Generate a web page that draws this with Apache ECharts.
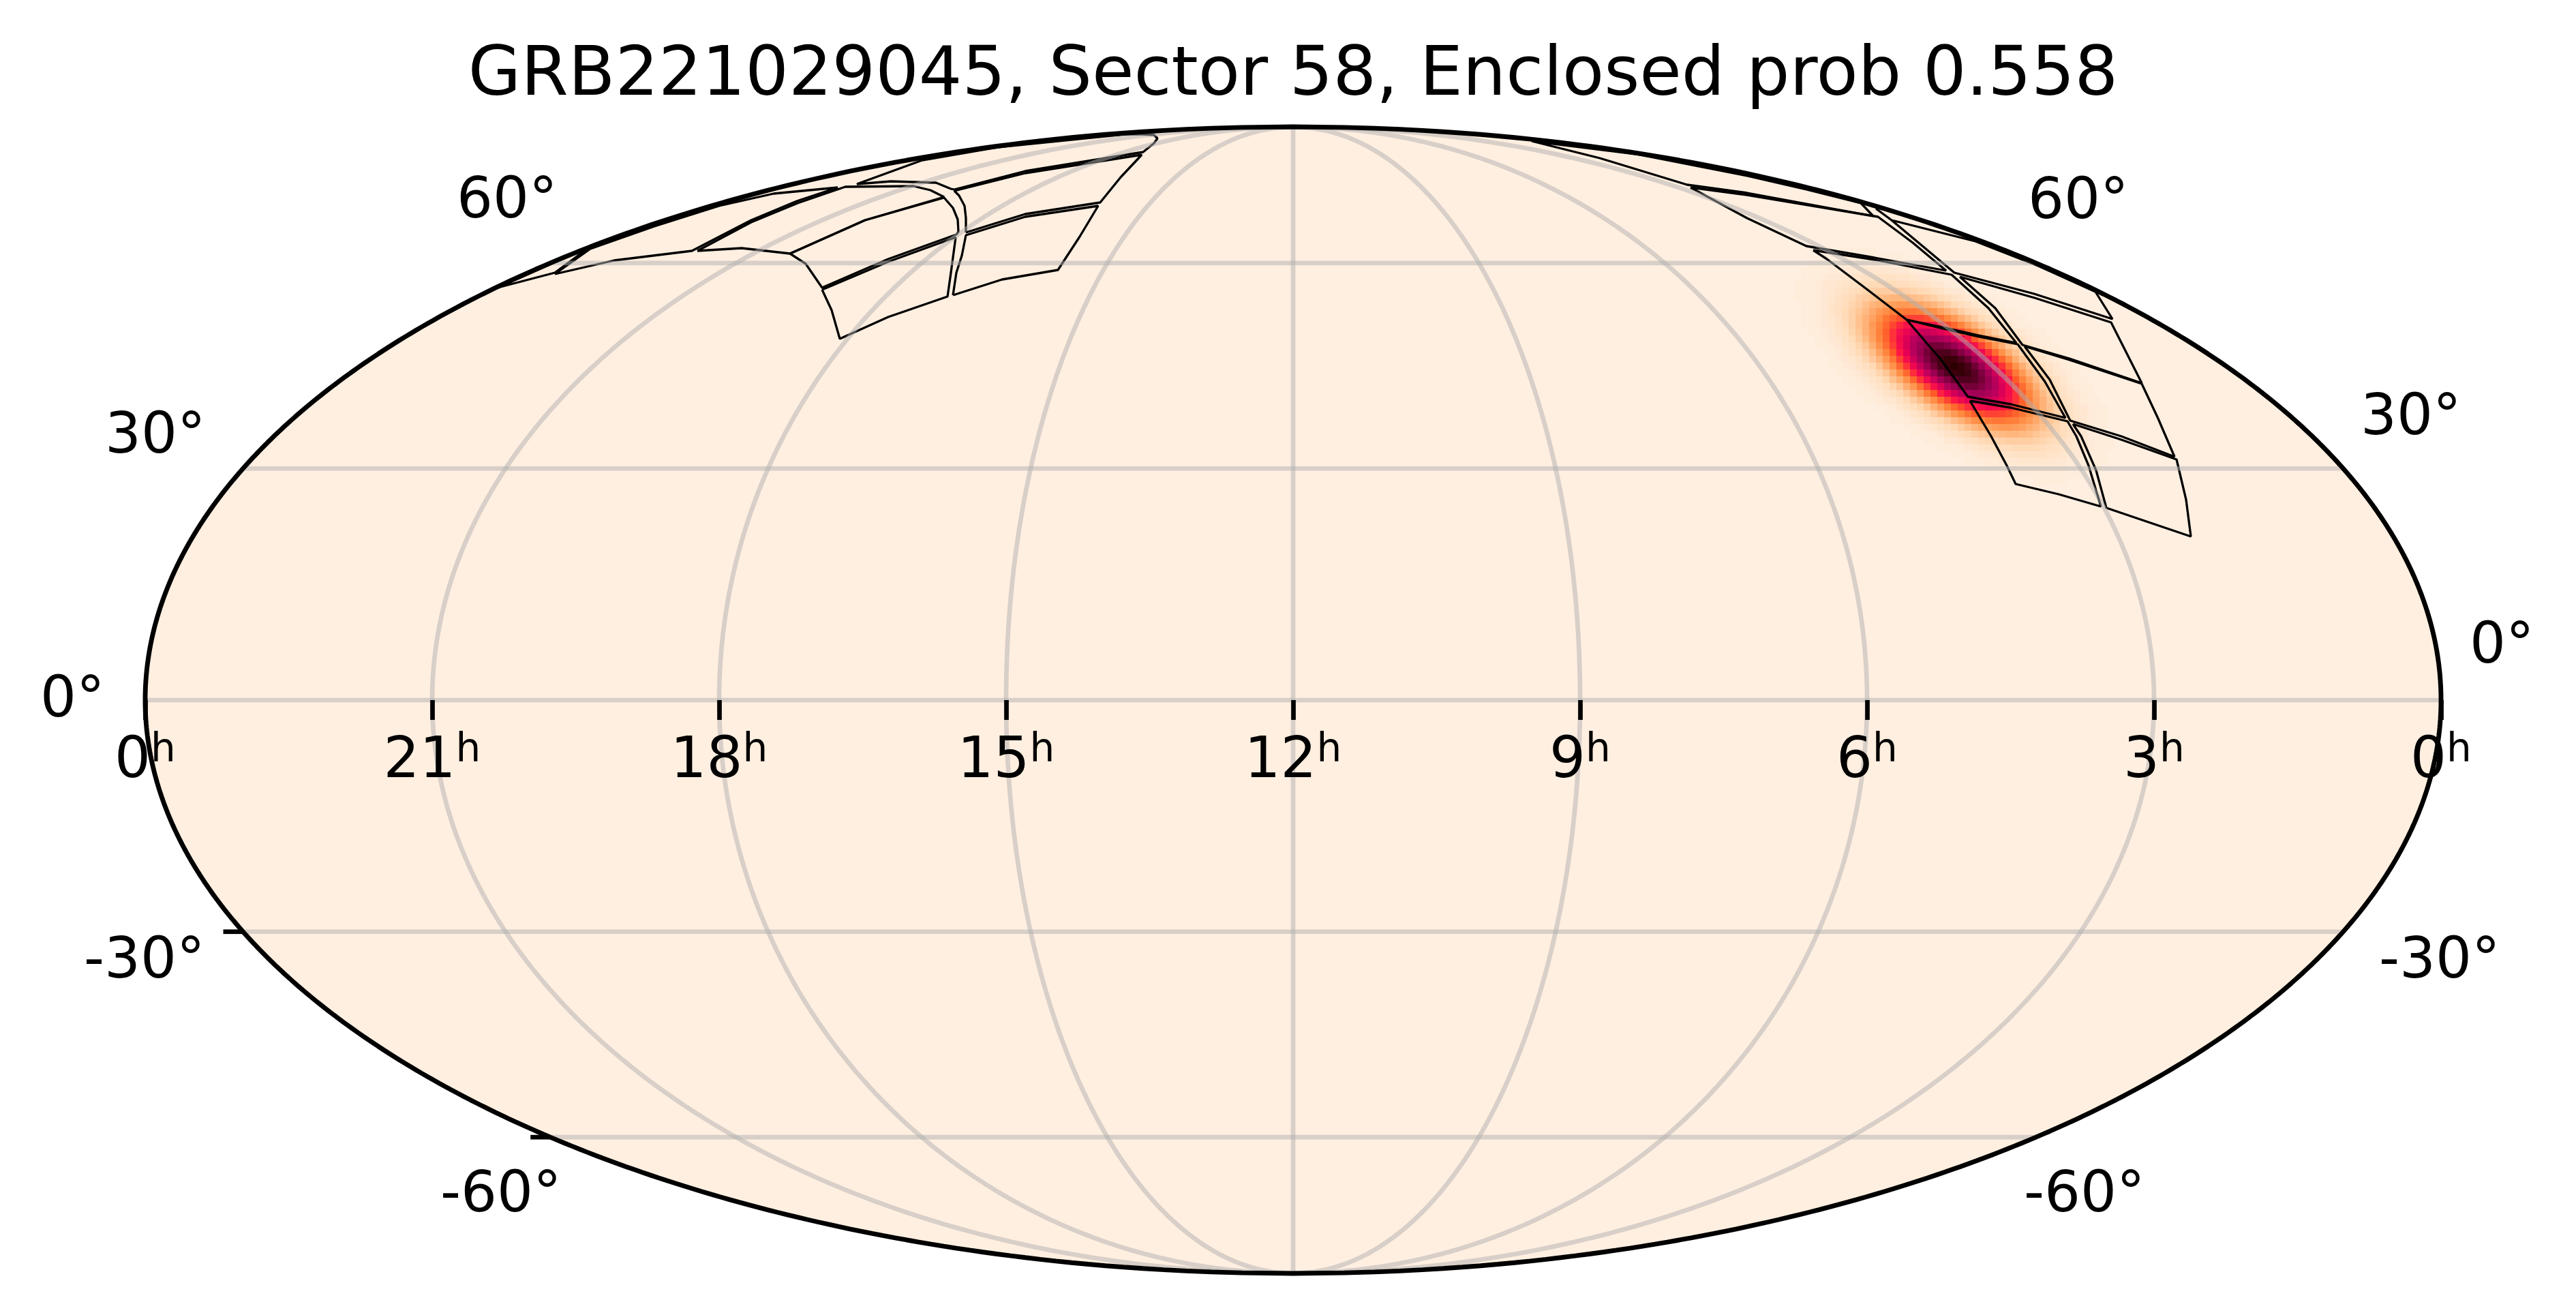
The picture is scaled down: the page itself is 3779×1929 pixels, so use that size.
<!DOCTYPE html>
<html>
<head>
<meta charset="utf-8">
<title>GRB221029045</title>
<style>
  html, body { margin: 0; background: #fff; }
  #chart { width: 3779px; height: 1929px; }
</style>
<script src="https://cdn.jsdelivr.net/npm/echarts@6/dist/echarts.min.js"></script>
</head>
<body>
<div id="chart"></div>
<script>
const titleText = 'GRB221029045, Sector 58, Enclosed prob 0.558';
const raTickLabels = ['0', '21', '18', '15', '12', '9', '6', '3', '0'];
const decTickLabels = ['0°', '30°', '60°', '-30°', '-60°', '0°', '30°', '60°', '-30°', '-60°'];
const meridianLons = [-135, -90, -45, 0, 45, 90, 135];
const parallelLats = [-60, -30, 0, 30, 60];
const tickedLats = [-30, -60];

// sensor footprints, in units of the projection plane
const camTopLeftTip = [[-1167,605],[-1083,627],[-1033,664],[-1097,636],[-1167,605]];
const camTopLeftA = [[-1083,625],[-996,645],[-882,659],[-795,704],[-728,732],[-668,752],[-762,743],[-842,725],[-937,695],[-1031,662],[-1083,625]];
const camTopLeftB = [[-874,659],[-809,663],[-738,655],[-628,704],[-512,738],[-532,748],[-557,754],[-657,753],[-727,729],[-795,701],[-874,659]];
const camLeftA = [[-738,655],[-715,640],[-691,605],[-594,647],[-494,683],[-491,687],[-492,705],[-499,722],[-512,737],[-628,704],[-738,655]];
const camLeftB = [[-691,602],[-677,572],[-665,530],[-594,562],[-507,592],[-502,627],[-495,679],[-594,643],[-691,602]];
const camMidA = [[-499,594],[-427,617],[-345,631],[-313,680],[-286,725],[-393,709],[-480,682],[-486,652],[-494,627],[-499,594]];
const camMidB = [[-480,686],[-393,713],[-283,730],[-253,767],[-222,800],[-393,773],[-497,747],[-490,740],[-482,725],[-480,707],[-480,686]];
const camMidC = [[-497,749],[-393,776],[-220,804],[-204,817],[-199,824],[-204,829],[-220,830],[-247,830],[-434,811],[-544,792],[-640,757],[-590,761],[-524,759],[-502,750],[-497,749]];
const camRightA = [[350,820],[450,795],[578,756],[666,744],[851,710],[833,729],[753,749],[666,769],[503,801],[350,820]];
const camRightB = [[583,752],[666,707],[753,666],[853,649],[958,630],[909,671],[858,709],[666,741],[583,752]];
const camRightC = [[763,660],[783,647],[840,604],[900,558],[953,547],[1006,535],[1061,524],[1020,575],[966,624],[853,646],[763,660]];
const camRightD = [[900,558],[950,500],[990,445],[1053,434],[1133,414],[1103,467],[1063,522],[1006,533],[953,545],[900,558]];
const camRightE = [[993,439],[1024,387],[1047,344],[1060,317],[1123,302],[1185,284],[1167,344],[1149,387],[1136,409],[1053,429],[993,439]];
const camRightG = [[978,621],[1088,590],[1200,554],[1245,465],[1139,501],[1070,521],[1030,575],[978,621]];
const camRightH = [[855,721],[878,704],[970,627],[1087,596],[1202,559],[1177,599],[1093,637],[1001,673],[878,704]];
const camRightK = [[1073,519],[1139,499],[1245,464],[1269,413],[1293,357],[1215,387],[1140,410],[1110,470],[1073,519]];
const camRightJ = [[1144,405],[1215,382],[1296,353],[1310,294],[1317,240],[1252,262],[1193,282],[1178,337],[1156,387],[1144,405]];
const footprints = [camTopLeftTip, camTopLeftA, camTopLeftB, camLeftA, camLeftB, camMidA, camMidB, camMidC,
  camRightA, camRightB, camRightC, camRightD, camRightE, camRightG, camRightH, camRightK, camRightJ];

// probability per cell, 0-100, read row by row from the top of the blob
const heatFirstCol = [-16,-18,-19,-20,-20,-20,-20,-20,-20,-20,-19,-19,-18,-17,-17,-16,-15,-14,-13,-12,-11,-9,-8,-7,-5,-3,-1,1,3,5,9];
const heatRows = [
  [2,2,2,2,2,2,2,2],
  [2,2,3,3,4,4,4,4,4,3,3,3,2,2],
  [2,3,3,4,5,5,6,6,6,6,6,5,5,4,3,3,2],
  [2,3,3,4,5,6,7,8,9,9,9,9,8,8,7,6,5,4,3,2],
  [2,3,4,5,6,8,9,11,12,13,13,13,13,12,11,10,9,7,6,4,3,3],
  [2,3,4,6,8,9,12,13,15,17,18,19,19,18,17,16,14,12,10,8,6,5,3,2],
  [2,3,5,6,8,11,13,16,19,21,24,25,26,26,25,23,21,19,16,13,10,8,6,4,3,2],
  [2,3,5,7,9,12,15,18,22,26,29,32,33,34,34,33,30,28,24,20,17,13,10,8,6,4,3,2],
  [2,3,4,6,9,12,16,20,24,29,34,38,41,43,44,44,42,39,35,30,26,21,17,13,9,7,5,3,2],
  [2,3,4,6,8,12,16,20,26,31,37,43,48,52,54,55,54,51,47,42,37,31,25,20,15,11,8,6,4,2],
  [2,3,5,7,11,15,20,25,32,39,46,53,58,63,65,66,64,61,56,50,43,36,29,23,17,13,9,6,4,3,2],
  [2,3,4,6,9,13,18,24,31,38,46,55,62,69,73,76,76,74,70,64,57,49,40,33,25,19,14,10,7,5,3,2],
  [2,3,5,7,11,15,21,28,36,44,54,63,71,78,83,86,86,83,78,71,62,53,44,35,27,21,15,11,7,5,3,2],
  [2,4,6,9,12,17,24,31,40,50,60,70,79,86,91,93,93,89,83,76,66,56,46,37,28,21,16,11,7,5,3,2],
  [2,3,4,6,10,14,19,26,34,44,54,65,75,84,91,96,98,97,93,87,78,68,57,47,37,29,21,15,11,7,5,3,2],
  [2,3,5,7,10,15,21,28,37,46,57,67,78,87,94,98,100,98,94,87,78,67,57,46,37,28,21,15,10,7,5,3,2],
  [2,3,5,7,11,15,21,29,37,47,57,68,78,87,93,97,98,96,91,84,75,65,54,44,34,26,19,14,10,6,4,3,2],
  [2,3,5,7,11,16,21,28,37,46,56,66,76,83,89,93,93,91,86,79,70,60,50,40,31,24,17,12,9,6,4,2],
  [2,3,5,7,11,15,21,27,35,44,53,62,71,78,83,86,86,83,78,71,63,54,44,36,28,21,15,11,7,5,3,2],
  [2,3,5,7,10,14,19,25,33,40,49,57,64,70,74,76,76,73,69,62,55,46,38,31,24,18,13,9,6,4,3,2],
  [2,3,4,6,9,13,17,23,29,36,43,50,56,61,64,66,65,63,58,53,46,39,32,25,20,15,11,7,5,3,2],
  [2,4,6,8,11,15,20,25,31,37,42,47,51,54,55,54,52,48,43,37,31,26,20,16,12,8,6,4,3,2],
  [2,3,5,7,9,13,17,21,26,30,35,39,42,44,44,43,41,38,34,29,24,20,16,12,9,6,4,3,2],
  [2,3,4,6,8,10,13,17,20,24,28,30,33,34,34,33,32,29,26,22,18,15,12,9,7,5,3,2],
  [2,3,4,6,8,10,13,16,19,21,23,25,26,26,25,24,21,19,16,13,11,8,6,5,3,2],
  [2,3,5,6,8,10,12,14,16,17,18,19,19,18,17,15,13,12,9,8,6,4,3,2],
  [3,3,4,6,7,9,10,11,12,13,13,13,13,12,11,9,8,6,5,4,3,2],
  [2,3,4,5,6,7,8,8,9,9,9,9,8,7,6,5,4,3,3,2],
  [2,3,3,4,5,5,6,6,6,6,6,5,5,4,3,3,2],
  [2,2,3,3,3,4,4,4,4,4,3,3,2,2],
  [2,2,2,2,2,2,2,2]
];
// the very faint halo round the blob: runs of cells at the lowest level, per row
const haloValue = 1;
const haloFirstCol = [-16,-19,-21,-22,-22,-23,-23,-23,-22,-22,-22,-22,-21,-20,-20,-19,-18,-18,-17,-16,-15,-14,-13,-11,-10,-9,-7,-6,-4,-2,0,2,4,8,12];
const haloLastCol = [-12,-8,-4,-2,0,2,4,6,7,9,10,11,13,14,15,16,17,18,18,19,20,20,21,22,22,22,22,23,23,23,22,22,21,19,16];

const PLANE_X = 1684, PLANE_Y = 841;
const HEAT_X0 = 970, HEAT_Y0 = 640, HALO_Y0 = 660, HEAT_STEP = 10;
const FONT = '"DejaVu Sans"';
const BG = '#ffefe0';

// left x and baseline y of the declination labels, in px
const decLabelLayout = [[59,1052],[154,665],[670,320],[123,1435],[646,1778],[3623,973],[3463,638],[2975,321],[3490,1435],[2969,1778]];

// Mollweide projection into the plane of the axes
function mollweide(lonDeg, latDeg) {
  const phi = latDeg * Math.PI / 180;
  let t = phi;
  if (Math.abs(latDeg) !== 90) {
    for (let i = 0; i < 50; i++) {
      t -= (2 * t + Math.sin(2 * t) - Math.PI * Math.sin(phi)) / (2 + 2 * Math.cos(2 * t));
    }
  }
  return [PLANE_X * lonDeg / 180 * Math.cos(t), PLANE_Y * Math.sin(t)];
}

function meridian(lon) {
  const pts = [];
  for (let lat = -90; lat <= 90; lat += 1) pts.push(mollweide(lon, lat));
  return pts;
}
function parallel(lat) {
  return [mollweide(-180, lat), mollweide(180, lat)];
}
const rim = [];
for (let lat = -90; lat <= 90; lat += 0.5) rim.push(mollweide(-180, lat));
for (let lat = 90; lat >= -90; lat -= 0.5) rim.push(mollweide(180, lat));

const heatData = [];
haloFirstCol.forEach((first, r) => {
  for (let c = first; c <= haloLastCol[r]; c++) {
    heatData.push([HEAT_X0 + c * HEAT_STEP, HALO_Y0 - r * HEAT_STEP, haloValue]);
  }
});
heatRows.forEach((row, r) => {
  row.forEach((v, c) => {
    heatData.push([HEAT_X0 + (heatFirstCol[r] + c) * HEAT_STEP, HEAT_Y0 - r * HEAT_STEP, v]);
  });
});

function lineSeries(data, color, width, z) {
  return {
    type: 'line', data: data, showSymbol: false, symbol: 'none', silent: true, z: z, clip: false,
    lineStyle: { color: color, width: width, opacity: 1 }
  };
}

const series = [];
series.push({
  type: 'custom', z: 1, silent: true, clip: false, data: [[0, 0]],
  renderItem: (params, api) => ({
    type: 'polygon',
    shape: { points: rim.map(p => api.coord(p)) },
    style: { fill: BG }
  })
});
series.push({
  type: 'custom', z: 2, silent: true, clip: false, data: heatData, encode: { x: 0, y: 1 },
  renderItem: (params, api) => {
    const c = api.coord([api.value(0), api.value(1)]);
    const s = api.size([HEAT_STEP, HEAT_STEP]);
    return {
      type: 'rect',
      shape: { x: c[0] - s[0] / 2, y: c[1] - s[1] / 2, width: s[0], height: s[1] },
      style: { fill: api.visual('color') }
    };
  }
});
footprints.forEach(f => series.push(lineSeries(f, '#000', 3.3, 3)));
meridianLons.forEach(l => series.push(lineSeries(meridian(l), 'rgba(176,176,176,0.5)', 6.7, 4)));
parallelLats.forEach(l => series.push(lineSeries(parallel(l), 'rgba(176,176,176,0.5)', 6.7, 4)));
tickedLats.forEach(l => {
  const p = mollweide(-180, l);
  series.push(lineSeries([[p[0] - 29, p[1]], p], '#000', 6.7, 5));
});
series.push(lineSeries(rim.concat([rim[0]]), '#000', 6.9, 6));

const graphic = decTickLabels.map((t, i) => ({
  type: 'text', x: decLabelLayout[i][0], y: decLabelLayout[i][1] - 23, z: 20,
  style: { text: t, fontFamily: FONT, fontSize: 83.3, fill: '#000', align: 'left', verticalAlign: 'middle' }
}));

const chart = echarts.init(document.getElementById('chart'), null, { renderer: 'canvas' });
chart.setOption({
  animation: false,
  backgroundColor: '#fff',
  title: {
    text: titleText, left: 1892, top: 58, textAlign: 'center',
    textStyle: { fontFamily: FONT, fontSize: 100, fontWeight: 'normal', color: '#000' }
  },
  grid: { left: 213, top: 186, width: 3368, height: 1682, outerBoundsMode: 'none' },
  xAxis: {
    type: 'value', min: -PLANE_X, max: PLANE_X, interval: 421, z: 10, offset: -841,
    splitLine: { show: false },
    axisLine: { show: false, onZero: false },
    axisTick: { show: true, length: 29, lineStyle: { color: '#000', width: 6.7 } },
    axisLabel: {
      show: true, margin: 46, interval: 0,
      formatter: v => '{d|' + raTickLabels[Math.round((v + PLANE_X) / 421)] + '}{h|h}',
      rich: {
        d: { fontFamily: FONT, fontSize: 83.3, color: '#000', lineHeight: 90 },
        h: { fontFamily: FONT, fontSize: 58, color: '#000', verticalAlign: 'top', lineHeight: 60 }
      }
    }
  },
  yAxis: {
    type: 'value', min: -PLANE_Y, max: PLANE_Y, interval: PLANE_Y, show: false
  },
  visualMap: {
    show: false, type: 'continuous', seriesIndex: 1, dimension: 2, min: 0, max: 100,
    inRange: { color: ['#ffefe0', '#ffd9b4', '#ffb277', '#ff8a40', '#ff5a28', '#ff1845', '#e60055', '#b8005c', '#94004e', '#5e0028', '#2c0000'] }
  },
  graphic: graphic,
  series: series
});
</script>
</body>
</html>
